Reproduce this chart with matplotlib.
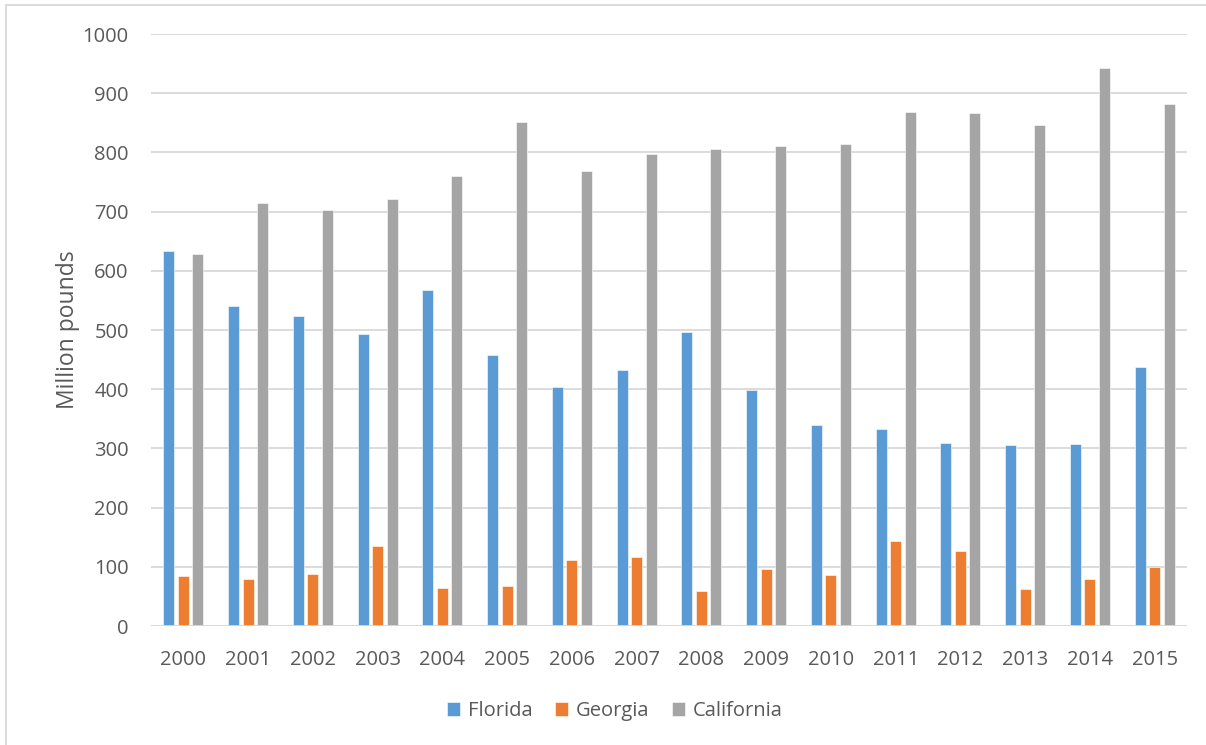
import numpy as np
import matplotlib.pyplot as plt
from matplotlib.lines import Line2D

plt.rcParams['font.family'] = ['Open Sans', 'DejaVu Sans']

years = [str(y) for y in range(2000, 2016)]
florida = [633, 541, 524, 494, 567, 457, 403, 433, 497, 398, 339, 332, 309, 306, 308, 438]
georgia = [84, 79, 87, 135, 65, 67, 112, 116, 59, 97, 86, 143, 126, 62, 79, 100]
california = [629, 714, 702, 721, 760, 851, 769, 797, 805, 811, 815, 868, 867, 846, 943, 882]

series = [("Florida", florida, "#5b9bd5"),
          ("Georgia", georgia, "#ed7d31"),
          ("California", california, "#a5a5a5")]

text_color = "#595959"
grid_color = "#d9d9d9"

fig = plt.figure(figsize=(12.06, 7.45), dpi=100)
ax = fig.add_axes([151 / 1206, 119 / 745, 1036 / 1206, 592 / 745])

x = np.arange(len(years))
width = 0.17
step = 0.224
for i, (name, vals, color) in enumerate(series):
    ax.bar(x + (i - 1) * step, vals, width, color=color, label=name,
           edgecolor="white", linewidth=0.4, zorder=3)

ax.set_xlim(-0.5, len(years) - 0.5)
ax.set_ylim(0, 1000)
ax.set_yticks(range(0, 1001, 100))
ax.set_xticks(x)
ax.set_xticklabels(years)
ax.grid(axis="y", color=grid_color, linewidth=1.3, zorder=0)
ax.axhline(0, color=grid_color, linewidth=2, zorder=4)
for s in ax.spines.values():
    s.set_visible(False)
ax.tick_params(axis="both", length=0, labelsize=14.5, labelcolor=text_color)
ax.tick_params(axis="y", pad=16)
ax.tick_params(axis="x", pad=17)
ax.set_ylabel("Million pounds", fontsize=16.5, color=text_color, labelpad=2)

leg = fig.legend(loc="center", bbox_to_anchor=(615 / 1206, 1 - 711 / 745), ncol=3,
                 frameon=False, fontsize=14.5, handlelength=0.65, handleheight=0.65,
                 handletextpad=0.4, columnspacing=1.1)
for t in leg.get_texts():
    t.set_color(text_color)

# chart border
fig.add_artist(Line2D([6 / 1206, 1], [1 - 5 / 745, 1 - 5 / 745], color=grid_color,
                      linewidth=1.3, transform=fig.transFigure))
fig.add_artist(Line2D([6 / 1206, 6 / 1206], [0, 1 - 5 / 745], color=grid_color,
                      linewidth=1.3, transform=fig.transFigure))

fig.savefig("out.png", dpi=100, facecolor="white")
